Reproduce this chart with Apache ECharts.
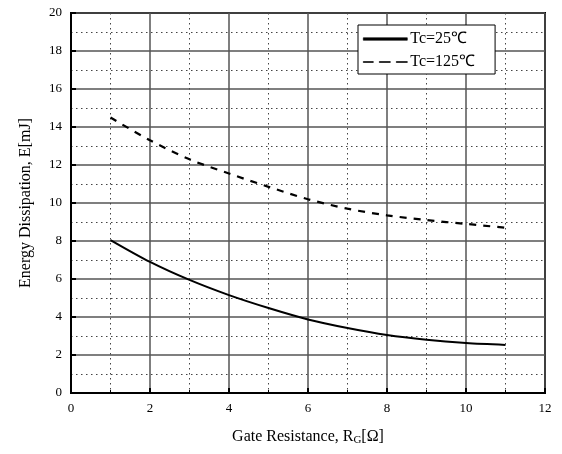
<!DOCTYPE html>
<html>
<head>
<meta charset="utf-8">
<script src="https://cdn.jsdelivr.net/npm/echarts@6/dist/echarts.min.js"></script>
<style>html,body{margin:0;padding:0;background:#fff;}#c{width:562px;height:454px;}</style>
</head>
<body>
<div id="c"></div>
<script>
const rg = [1, 2, 3, 4, 5, 6, 7, 8, 9, 10, 11];
const e25 = [8.05, 6.9, 5.95, 5.15, 4.47, 3.87, 3.42, 3.05, 2.8, 2.63, 2.53];
const e125 = [14.5, 13.3, 12.3, 11.55, 10.85, 10.2, 9.7, 9.35, 9.1, 8.9, 8.7];
const xTicks = {min: 0, max: 12, interval: 2};
const yTicks = {min: 0, max: 20, interval: 2};
const names = ['Tc=25\u2103', 'Tc=125\u2103'];

const font = '"Liberation Serif", "Times New Roman", serif';
const chart = echarts.init(document.getElementById('c'), null, {renderer: 'canvas'});
const mk = (xs, ys) => xs.map((x, i) => [x, ys[i]]);
const iconStyle = {color: '#000', borderColor: '#000', borderWidth: 0.6, borderType: 'solid', opacity: 1};
chart.setOption({
  backgroundColor: '#fff',
  animation: false,
  grid: {left: 71, right: 17, top: 13, bottom: 61, show: true, borderColor: '#000', borderWidth: 2, backgroundColor: 'transparent'},
  legend: {
    orient: 'vertical', left: 358, top: 25,
    backgroundColor: '#fff', borderColor: '#000', borderWidth: 1,
    padding: [6, 20, 4, 5], itemGap: 7, itemWidth: 44, itemHeight: 2.5,
    textStyle: {fontFamily: font, fontSize: 16, color: '#000', padding: [0, 0, 0, -2]},
    data: [
      {name: names[0], icon: 'rect', itemStyle: iconStyle},
      {name: names[1], icon: 'path://M0,0 L10,0 L10,1 L0,1 Z M16,0 L27,0 L27,1 L16,1 Z M33,0 L44,0 L44,1 L33,1 Z', itemStyle: iconStyle}
    ]
  },
  xAxis: {
    type: 'value', min: xTicks.min, max: xTicks.max, interval: xTicks.interval,
    name: '{a|Gate Resistance, R}{s|G}{a|[\u03a9]}', nameLocation: 'middle', nameGap: 34,
    nameTextStyle: {rich: {a: {fontFamily: font, fontSize: 16, color: '#000'}, s: {fontFamily: font, fontSize: 11, color: '#000', verticalAlign: 'bottom', padding: [8, 0, 0, 0]}}},
    axisLine: {lineStyle: {color: '#000', width: 2}},
    axisTick: {inside: true, length: 5, lineStyle: {color: '#000', width: 2}},
    minorTick: {show: true, splitNumber: 2, length: 3, lineStyle: {color: '#000', width: 1}},
    axisLabel: {fontFamily: font, fontSize: 13, color: '#000', margin: 9},
    splitLine: {show: true, lineStyle: {color: '#555', width: 1.5}},
    minorSplitLine: {show: true, lineStyle: {color: '#444', width: 1, type: [1.5, 3.5]}}
  },
  yAxis: {
    type: 'value', min: yTicks.min, max: yTicks.max, interval: yTicks.interval,
    name: 'Energy Dissipation, E[mJ]', nameLocation: 'middle', nameGap: 37,
    nameTextStyle: {fontFamily: font, fontSize: 16, color: '#000'},
    axisLine: {lineStyle: {color: '#000', width: 2}},
    axisTick: {inside: true, length: 5, lineStyle: {color: '#000', width: 2}},
    minorTick: {show: false, splitNumber: 2},
    axisLabel: {fontFamily: font, fontSize: 13, color: '#000', margin: 9},
    splitLine: {show: true, lineStyle: {color: '#555', width: 1.5}},
    minorSplitLine: {show: true, lineStyle: {color: '#444', width: 1, type: [1.5, 3.5]}}
  },
  series: [
    {name: names[0], type: 'line', smooth: 0.3, symbol: 'none', data: mk(rg, e25),
     lineStyle: {color: '#000', width: 2}, itemStyle: {color: '#000'}},
    {name: names[1], type: 'line', smooth: 0.3, symbol: 'none', data: mk(rg, e125),
     lineStyle: {color: '#000', width: 2.2, type: [7, 7]}, itemStyle: {color: '#000'}}
  ]
});
</script>
</body>
</html>
